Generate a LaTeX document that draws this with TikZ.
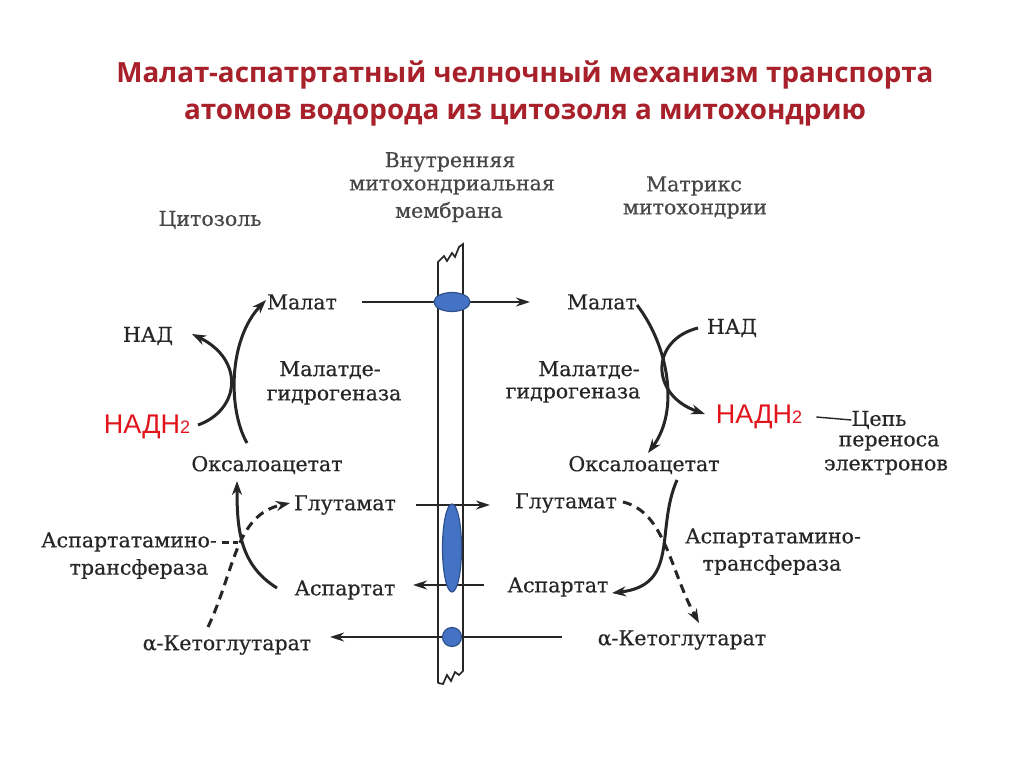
\documentclass[tikz,border=0pt]{standalone}
\usepackage{fontspec}
\setmainfont{DejaVu Serif}[FakeBold=0.5]
\newfontfamily\titlefont{Open Sans}
\newfontfamily\redfont{Liberation Sans}
\usetikzlibrary{arrows.meta}
\definecolor{ink}{HTML}{262626}
\definecolor{titlered}{HTML}{A8202A}
\definecolor{nadred}{HTML}{E1141C}
\definecolor{blfill}{HTML}{4472C4}
\definecolor{bldraw}{HTML}{2F528F}
\tikzset{
  lab/.style={inner sep=0pt, text=ink, font=\fontsize{20.5}{24}\selectfont},
  hdr/.style={lab, text=ink!85},
  redlab/.style={inner sep=0pt, text=nadred, font=\redfont\fontsize{27}{30}\selectfont},
  ttl/.style={inner sep=0pt, text=titlered, font=\titlefont\bfseries\fontsize{27.8}{32}\selectfont},
  curv/.style={draw=ink, line width=3pt, -{Stealth[length=14pt,width=10pt]}},
  curvn/.style={draw=ink, line width=3pt},
  dcurv/.style={curv, dash pattern=on 9pt off 6pt},
  dcurvn/.style={curvn, dash pattern=on 9pt off 6pt},
  harr/.style={draw=ink, line width=2pt, -{Stealth[length=14pt,width=9pt]}},
  memb/.style={draw=ink, line width=1.7pt},
  carrier/.style={fill=blfill, draw=bldraw, line width=1.2pt},
}
\begin{document}
\begin{tikzpicture}[x=1pt,y=-1pt]
\useasboundingbox (0,0) rectangle (1024,767);
\fill[white] (0,0) rectangle (1024,767);
% title
\node[ttl] (t1) at (525,75) {Малат-аспатртатный челночный механизм транспорта};
\node[ttl] (t2) at (525,115) {атомов водорода из цитозоля а митохондрию};
% headers
\node[hdr] (cyt) at (210,220) {Цитозоль};
\node[hdr] (mem1) at (450,162) {Внутренняя};
\node[hdr] (mem2) at (452,187) {митохондриальная};
\node[hdr] (mem3) at (449,212) {мембрана};
\node[hdr] (matr1) at (694,186) {Матрикс};
\node[hdr] (matr2) at (695,211) {митохондрии};
% membrane
\draw[memb] (438,683) -- (438,262) -- (444,256) -- (447,261) -- (452,253) -- (455,257) -- (459,247) -- (463,244) -- (463,671)
  -- (459,675) -- (455,672) -- (451,681) -- (447,675) -- (443,684) -- (438,683);
% left labels
\node[lab] (malL) at (302,302) {Малат};
\node[lab] (nadL) at (148,336) {НАД};
\node[lab] (mdgL1) at (330,370) {Малатде-};
\node[lab] (mdgL2) at (334,397) {гидрогеназа};
\node[redlab] (nadhL) at (147,427) {НАДН{\fontsize{18}{20}\selectfont 2}};
\node[lab] (oxL) at (267,465) {Оксалоацетат};
\node[lab] (gluL) at (345,505) {Глутамат};
\node[lab] (aatL1) at (129,542) {Аспартатамино-};
\node[lab] (aatL2) at (139,569) {трансфераза};
\node[lab] (aspL) at (345,590) {Аспартат};
\node[lab] (akgL) at (227,645) {α-Кетоглутарат};
% right labels
\node[lab] (malR) at (602,302) {Малат};
\node[lab] (nadR) at (732,328) {НАД};
\node[lab] (mdgR1) at (589,370) {Малатде-};
\node[lab] (mdgR2) at (573,395) {гидрогеназа};
\node[redlab] (nadhR) at (759,417) {НАДН{\fontsize{18}{20}\selectfont 2}};
\node[lab] (cep) at (879,420) {Цепь};
\node[lab] (per) at (889,443) {переноса};
\node[lab] (ele) at (886,467) {электронов};
\node[lab] (oxR) at (644,465) {Оксалоацетат};
\node[lab] (gluR) at (566,503) {Глутамат};
\node[lab] (aatR1) at (773,538) {Аспартатамино-};
\node[lab] (aatR2) at (772,565) {трансфераза};
\node[lab] (aspR) at (558,587) {Аспартат};
\node[lab] (akgR) at (682,640) {α-Кетоглутарат};
% transport arrows across the membrane
\coordinate (ma1) at (362,302); \coordinate (ma2) at (530,302);
\coordinate (gl1) at (416,505); \coordinate (gl2) at (490,505);
\coordinate (as1) at (484,585); \coordinate (as2) at (413,585);
\coordinate (kg1) at (562,637); \coordinate (kg2) at (330,637);
\draw[harr] (ma1) -- (ma2);
\draw[harr] (gl1) -- (gl2);
\draw[harr] (as1) -- (as2);
\draw[harr] (kg1) -- (kg2);
% carriers
\fill[carrier] (452,302) ellipse [x radius=18, y radius=9.5];
\fill[carrier] (452,548) ellipse [x radius=9.5, y radius=44];
\fill[carrier] (452,637) circle [radius=9.5];
% left malate dehydrogenase
\coordinate (a1) at (247,443); \coordinate (a2) at (266,300);
\coordinate (b1) at (198,425); \coordinate (b2) at (192,334);
\draw[curv] (a1) .. controls (228,410) and (228,340) .. (a2);
\draw[curv] (b1) .. controls (240,410) and (245,360) .. (b2);
% right malate dehydrogenase
\coordinate (c1) at (637,305); \coordinate (c2) at (648,453);
\coordinate (d1) at (698,328); \coordinate (d2) at (705,414);
\draw[curv] (c1) .. controls (668,345) and (680,410) .. (c2);
\draw[curv] (d1) .. controls (650,340) and (650,395) .. (d2);
% chain
\draw[draw=ink, line width=1.4pt] ([xshift=14pt]nadhR.east) -- (cep.west);
% left aminotransferase
\coordinate (e1) at (277,588); \coordinate (e2) at (237,481);
\coordinate (f1) at (208,627); \coordinate (f2) at (290,503);
\coordinate (xl) at (238,542);
\draw[curv] (e1) .. controls (240,565) and (237,530) .. (e2);
\draw[dcurv] (f1) .. controls (235,570) and (235,515) .. (f2);
\draw[dcurvn, dash pattern=on 7pt off 4pt] ([xshift=5pt]aatL1.east) -- (xl);
% right aminotransferase
\coordinate (g1) at (623,502); \coordinate (g2) at (699,623);
\coordinate (h1) at (677,480); \coordinate (h2) at (612,593);
\draw[dcurv] (g1) .. controls (665,512) and (670,570) .. (g2);
\draw[curv] (h1) .. controls (655,530) and (680,585) .. (h2);
\end{tikzpicture}
\end{document}
